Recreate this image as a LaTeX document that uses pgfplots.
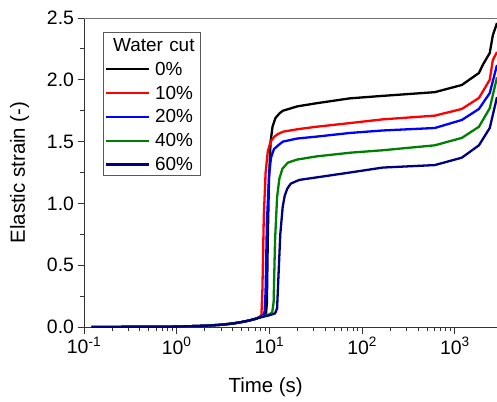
\documentclass[border=0pt]{standalone}
\usepackage{fontspec}
\setmainfont{Liberation Sans}
\usepackage{pgfplots}
\pgfplotsset{compat=1.18}
\definecolor{navyc}{RGB}{0,0,128}
\definecolor{greenc}{RGB}{0,128,0}
\begin{document}
\begin{tikzpicture}
\begin{axis}[
  scale only axis, width=413bp, height=309bp,
  xmode=log, xmin=0.1, xmax=2850, ymin=0, ymax=2.5,
  axis x line*=bottom, axis y line*=left,
  axis line style={line width=0.8bp, black!80},
  tick style={line width=0.8bp, black!80},
  tick align=outside, major tick length=6.5bp, minor tick length=4bp,
  xtick={0.1,1,10,100,1000},
  xticklabels={10\textsuperscript{-1},10\textsuperscript{0},10\textsuperscript{1},10\textsuperscript{2},10\textsuperscript{3}},
  ytick={0,0.5,1,1.5,2,2.5},
  yticklabels={0.0,0.5,1.0,1.5,2.0,2.5},
  minor y tick num=1,
  ticklabel style={font=\fontsize{19.5}{22}\selectfont},
  xlabel={Time (s)}, ylabel={Elastic strain (-)},
  label style={font=\fontsize{20.5}{24}\selectfont},
  xlabel style={at={(axis description cs:0.44,-0.2104)}, anchor=base},
  ylabel style={at={(axis description cs:-0.1429,0.5)}, anchor=base},
  legend image code/.code={\path (-5.5bp,0bp) -- (37bp,0bp); \draw[#1] (0bp,0bp) -- (37bp,0bp);},
  legend cell align=left,
  legend style={at={(rel axis cs:0.046,0.9547)}, anchor=north west,
    draw=black!65, line width=0.8bp, fill=white,
    font=\fontsize{19}{22}\selectfont,
    inner xsep=1.5bp, inner ysep=1.4bp, row sep=4.8bp,
    /tikz/every odd column/.append style={inner xsep=0pt, column sep=3.5bp},
    /tikz/every even column/.append style={anchor=west, text width=42bp, align=left, inner xsep=1.5bp, inner ysep=1.5bp, text height=13.6bp, text depth=0bp}},
  every axis plot/.append style={line width=2.3bp, line join=round, no marks},
]
\addlegendimage{empty legend}
\addlegendentry[text height=15.5bp]{\hspace*{-42bp}Water cut}
\addplot[black] coordinates {
(0.12,0) (0.3,0.001) (1,0.003) (2,0.01) (3,0.018) (4,0.028) (5,0.04) (6,0.052) (7,0.065) (8,0.08) (8.8,0.09) (9.2,0.11) (9.4,0.2) (9.6,0.7) (9.9,1.2) (10.3,1.5) (10.8,1.62) (11.6,1.69) (12.9,1.73) (14,1.75) (20,1.785) (32,1.81) (74,1.85) (167,1.87) (608,1.90) (1190,1.958) (1820,2.055) (2000,2.12) (2380,2.217) (2570,2.36) (2850,2.46)};
\addlegendentry{0\%}
\addplot[red] coordinates {
(0.12,0) (0.3,0.001) (1,0.003) (2,0.01) (3,0.018) (4,0.028) (5,0.04) (6,0.052) (7,0.065) (7.8,0.08) (8.2,0.1) (8.4,0.3) (8.7,0.9) (9.1,1.25) (9.6,1.42) (10.3,1.5) (11.3,1.54) (12.3,1.56) (14,1.58) (20,1.60) (32,1.62) (74,1.65) (167,1.68) (608,1.71) (1190,1.764) (1820,1.853) (2380,2.0) (2570,2.16) (2850,2.225)};
\addlegendentry{10\%}
\addplot[blue] coordinates {
(0.12,0) (0.3,0.001) (1,0.003) (2,0.01) (3,0.018) (4,0.028) (5,0.04) (6,0.052) (7,0.065) (8,0.08) (8.6,0.095) (8.9,0.13) (9.1,0.3) (9.4,0.85) (9.9,1.22) (10.4,1.37) (11.2,1.44) (12.9,1.48) (14,1.50) (20,1.525) (32,1.54) (74,1.57) (167,1.59) (608,1.61) (1190,1.675) (1820,1.764) (2380,1.893) (2850,2.12)};
\addlegendentry{20\%}
\addplot[greenc] coordinates {
(0.12,0) (0.3,0.001) (1,0.003) (2,0.01) (3,0.018) (4,0.028) (5,0.04) (6,0.052) (7,0.065) (8,0.08) (9.5,0.095) (10.7,0.115) (11.1,0.2) (11.5,0.7) (12.1,1.05) (12.8,1.2) (13.8,1.28) (15.8,1.33) (20,1.355) (32,1.38) (74,1.41) (167,1.43) (608,1.47) (1190,1.53) (1820,1.62) (2380,1.77) (2850,2.02)};
\addlegendentry{40\%}
\addplot[navyc] coordinates {
(0.12,0) (0.3,0.001) (1,0.003) (2,0.01) (3,0.018) (4,0.028) (5,0.04) (6,0.052) (7,0.065) (8,0.078) (10,0.095) (11.5,0.11) (12.1,0.15) (12.5,0.4) (13.1,0.75) (13.9,0.97) (14.6,1.06) (15.6,1.12) (17,1.16) (21,1.19) (32,1.21) (74,1.25) (167,1.29) (608,1.31) (1190,1.37) (1820,1.47) (2380,1.61) (2850,1.86)};
\addlegendentry{60\%}
\draw[black!55, line width=0.8bp] (rel axis cs:0,1) -- (rel axis cs:1,1);
\end{axis}
\pgfresetboundingbox
\path (-84bp,-75bp) rectangle (413bp,327bp);
\end{tikzpicture}
\end{document}
